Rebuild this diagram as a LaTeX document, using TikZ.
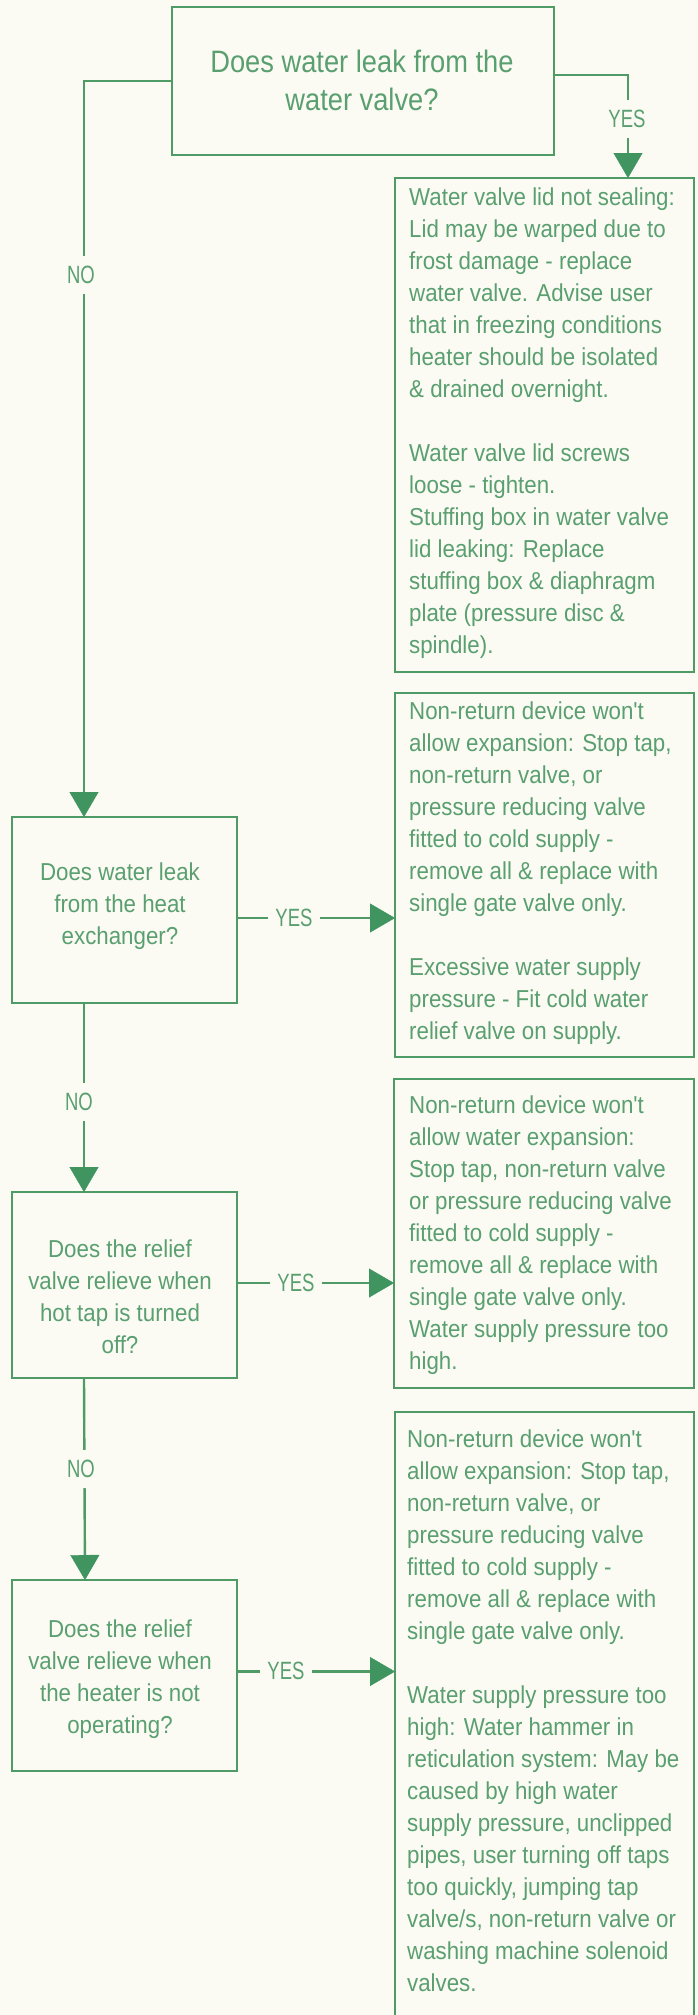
\documentclass[tikz,border=0pt]{standalone}
\usepackage{fontspec}
\setmainfont{Liberation Sans}
\newfontfamily\bodyfont{Liberation Sans}[FakeStretch=0.91]
\newfontfamily\titlefont{Liberation Sans}[FakeStretch=0.88]
\newfontfamily\labelfont{Liberation Sans}[FakeStretch=0.74]
\usetikzlibrary{arrows.meta,calc}
\definecolor{paper}{HTML}{FBFBF3}
\definecolor{rule}{HTML}{4E9B66}
\definecolor{ink}{HTML}{5A9F70}
\definecolor{tipgreen}{HTML}{3F9460}
\begin{document}
\begin{tikzpicture}[x=1pt,y=-1pt,
  frame/.style={draw=rule, line width=2.8pt, inner sep=0pt, outer sep=0pt,
    anchor=north west},
  link/.style={draw=rule, line width=2.4pt},
  arrowed/.style={link, -{Triangle[length=25pt,width=29pt,line width=0.4pt,color=tipgreen]}},
  body/.style={font=\bodyfont\fontsize{24.5}{32}\selectfont, text=ink,
    align=left, anchor=north west, inner sep=0pt},
  question/.style={font=\bodyfont\fontsize{24.5}{32}\selectfont, text=ink,
    align=center, anchor=north, inner sep=0pt},
  title/.style={font=\titlefont\fontsize{31}{38}\selectfont, text=ink,
    align=center, anchor=north, inner sep=0pt},
  answer/.style={font=\labelfont\fontsize{25}{30}\selectfont, text=ink,
    fill=paper, inner xsep=7pt, inner ysep=10pt}]
\useasboundingbox (0,0) rectangle (698,2015);
\fill[paper] (0,0) rectangle (698,2015);
\clip (0,0) rectangle (698,2015);

% question boxes (left column and top)
\node[frame, minimum width=382pt, minimum height=148pt] (q1) at (172,7) {};
\node[frame, minimum width=225pt, minimum height=186pt] (q2) at (12,817) {};
\node[frame, minimum width=225pt, minimum height=186pt] (q3) at (12,1192) {};
\node[frame, minimum width=225pt, minimum height=191pt] (q4) at (12,1580) {};

% answer boxes (right column)
\node[frame, minimum width=299pt, minimum height=494pt] (a1) at (395,178) {};
\node[frame, minimum width=299pt, minimum height=364pt] (a2) at (395,693) {};
\node[frame, minimum width=300pt, minimum height=309pt] (a3) at (394,1079) {};
\node[frame, minimum width=299pt, minimum height=620pt] (a4) at (395,1412) {};

% question texts
\node[title] (q1t) at ($(q1.north west)+(190,38.4)$)
  {\strut Does water leak from the\\water valve?};
\node[question] (q2t) at ($(q2.north west)+(108,40.6)$)
  {\strut Does water leak\\from the heat\\exchanger?};
\node[question] (q3t) at ($(q3.north west)+(108,42.6)$)
  {\strut Does the relief\\valve relieve when\\hot tap is turned\\off?};
\node[question] (q4t) at ($(q4.north west)+(108,34.6)$)
  {\strut Does the relief\\valve relieve when\\the heater is not\\operating?};

% answer texts
\node[body] (a1t) at ($(a1.north west)+(14,4.6)$)
  {\strut Water valve lid not sealing:\\
   Lid may be warped due to\\
   frost damage - replace\\
   water valve. Advise user\\
   that in freezing conditions\\
   heater should be isolated\\
   \& drained overnight.\\[32pt]
   Water valve lid screws\\
   loose - tighten.\\
   Stuffing box in water valve\\
   lid leaking: Replace\\
   stuffing box \& diaphragm\\
   plate (pressure disc \&\\
   spindle).};
\node[body] (a2t) at ($(a2.north west)+(14,3.6)$)
  {\strut Non-return device won't\\
   allow expansion: Stop tap,\\
   non-return valve, or\\
   pressure reducing valve\\
   fitted to cold supply -\\
   remove all \& replace with\\
   single gate valve only.\\[32pt]
   Excessive water supply\\
   pressure - Fit cold water\\
   relief valve on supply.};
\node[body] (a3t) at ($(a3.north west)+(15,11.6)$)
  {\strut Non-return device won't\\
   allow water expansion:\\
   Stop tap, non-return valve\\
   or pressure reducing valve\\
   fitted to cold supply -\\
   remove all \& replace with\\
   single gate valve only.\\
   Water supply pressure too\\
   high.};
\node[body] (a4t) at ($(a4.north west)+(12,12.6)$)
  {\strut Non-return device won't\\
   allow expansion: Stop tap,\\
   non-return valve, or\\
   pressure reducing valve\\
   fitted to cold supply -\\
   remove all \& replace with\\
   single gate valve only.\\[32pt]
   Water supply pressure too\\
   high: Water hammer in\\
   reticulation system: May be\\
   caused by high water\\
   supply pressure, unclipped\\
   pipes, user turning off taps\\
   too quickly, jumping tap\\
   valve/s, non-return valve or\\
   washing machine solenoid\\
   valves.};

% connectors
\coordinate (yes1) at ($(q1.east)+(0,-6)$);
\draw[arrowed] (yes1) -| ($(a1.north west)+(233,0)$);
\draw[arrowed] (q1.west) -| ($(q2.north west)+(72,0)$);
\draw[arrowed] ($(q2.south west)+(72,0)$) -- ($(q3.north west)+(72,0)$);
\draw[arrowed] ($(q3.south west)+(72,0)$) -- ($(q4.north west)+(73,0)$);

\coordinate (yes2) at ($(q2.east)+(0,8)$);
\draw[arrowed] (yes2) -- (yes2 -| a2.west);
\coordinate (yes3) at ($(q3.east)+(0,-2)$);
\draw[arrowed] (yes3) -- (yes3 -| a3.west);
\coordinate (yes4) at ($(q4.east)+(0,-4)$);
\draw[arrowed] (yes4) -- (yes4 -| a4.west);

% answer labels on the connectors
\node[answer] (l1) at (627,119) {YES};
\node[answer] (l2) at (81,275) {NO};
\node[answer] (l3) at (294,918) {YES};
\node[answer] (l4) at (79,1102) {NO};
\node[answer] (l5) at (296,1283) {YES};
\node[answer] (l6) at (81,1469) {NO};
\node[answer] (l7) at (286,1671) {YES};
\end{tikzpicture}
\end{document}
